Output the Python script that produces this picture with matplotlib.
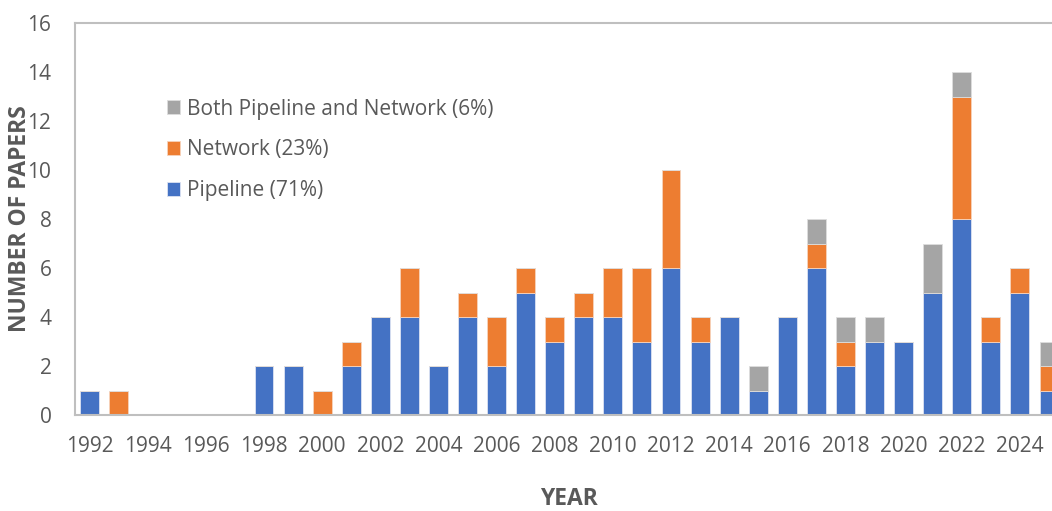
import matplotlib.pyplot as plt
import numpy as np

years = list(range(1992, 2026))
pipeline = [1, 0, 0, 0, 0, 0, 2, 2, 0, 2, 4, 4, 2, 4, 2, 5, 3, 4, 4, 3, 6, 3, 4, 1, 4, 6, 2, 3, 3, 5, 8, 3, 5, 1]
network = [0, 1, 0, 0, 0, 0, 0, 0, 1, 1, 0, 2, 0, 1, 2, 1, 1, 1, 2, 3, 4, 1, 0, 0, 0, 1, 1, 0, 0, 0, 5, 1, 1, 1]
both = [0, 0, 0, 0, 0, 0, 0, 0, 0, 0, 0, 0, 0, 0, 0, 0, 0, 0, 0, 0, 0, 0, 0, 1, 0, 1, 1, 1, 0, 2, 1, 0, 0, 1]
labels = ["Pipeline (71%)", "Network (23%)", "Both Pipeline and Network (6%)"]
colors = ["#4472C4", "#ED7D31", "#A5A5A5"]

plt.rcParams['font.family'] = ['Open Sans', 'DejaVu Sans']

fig = plt.figure(figsize=(10.52, 5.11), dpi=100)
ax = fig.add_axes([75 / 1052, 96 / 511, 988.5 / 1052, 392 / 511])

x = np.array(years)
p = np.array(pipeline)
n = np.array(network)
b = np.array(both)
w = 0.65
ax.bar(x, p, w, color=colors[0], edgecolor="#DCE3F2", linewidth=0.6, label=labels[0])
ax.bar(x, n, w, bottom=p, color=colors[1], edgecolor="#F7D3BC", linewidth=0.6, label=labels[1])
ax.bar(x, b, w, bottom=p + n, color=colors[2], edgecolor="#DDDDDD", linewidth=0.6, label=labels[2])

ax.set_xlim(1991.5, 2025.5)
ax.set_ylim(0, 16)
ax.set_yticks(range(0, 17, 2))
ax.set_xticks(range(1992, 2025, 2))
ax.tick_params(length=0, labelsize=15, colors="#595959")
ax.tick_params(axis='x', pad=15)
ax.tick_params(axis='y', pad=17)

for s in ['left', 'top', 'bottom']:
    ax.spines[s].set_color("#BFBFBF")
    ax.spines[s].set_linewidth(1.5)
ax.spines['right'].set_visible(False)

# label sits over the tick numbers, as in the original
ax.set_ylabel("NUMBER OF PAPERS", fontsize=16.5, fontweight='bold', color="#595959")
ax.yaxis.set_label_coords(-0.044, 0.5)
ax.set_xlabel("YEAR", fontsize=16.5, fontweight='bold', color="#595959", labelpad=22)

h, l = ax.get_legend_handles_labels()
leg = ax.legend(h[::-1], l[::-1], loc='upper left', bbox_to_anchor=(0.074, 0.855),
                frameon=False, fontsize=15, handlelength=0.65, handleheight=0.65,
                handletextpad=0.3, labelspacing=0.95, labelcolor="#595959")

fig.savefig("out.png", dpi=100)
